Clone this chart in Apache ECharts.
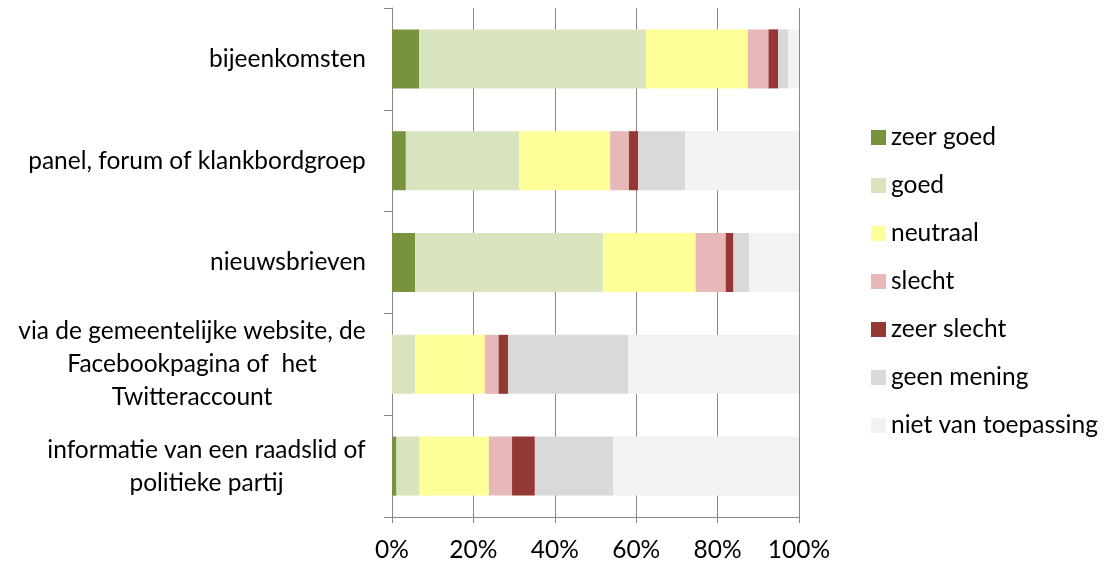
<!DOCTYPE html>
<html>
<head>
<meta charset="utf-8">
<script src="https://cdn.jsdelivr.net/npm/echarts@6/dist/echarts.min.js"></script>
<style>html,body{margin:0;padding:0;background:#fff;}#c{width:1107px;height:564px;}</style>
</head>
<body>
<div id="c"></div>
<script>
const categories = [
  "bijeenkomsten",
  "panel, forum of klankbordgroep",
  "nieuwsbrieven",
  "via de gemeentelijke website, de\nFacebookpagina of  het\nTwitteraccount",
  "informatie van een raadslid of\npolitieke partij"
];
const seriesNames = ["zeer goed","goed","neutraal","slecht","zeer slecht","geen mening","niet van toepassing"];
const zeerGoed   = [6.7, 3.4, 5.7, 0.0, 1.1];
const goed       = [55.7, 27.9, 46.2, 5.7, 5.7];
const neutraal   = [25.0, 22.3, 22.7, 17.1, 17.0];
const slecht     = [5.1, 4.6, 7.4, 3.4, 5.7];
const zeerSlecht = [2.4, 2.3, 1.9, 2.3, 5.6];
const geenMening = [2.5, 11.5, 3.8, 29.5, 19.3];
const nvt        = [2.6, 28.0, 12.3, 42.0, 45.6];
const xTicks = [0, 20, 40, 60, 80, 100];

const colors = ["#77933C","#D7E4BD","#FFFF99","#E6B9B8","#953735","#D9D9D9","#F2F2F2"];
const values = [zeerGoed, goed, neutraal, slecht, zeerSlecht, geenMening, nvt];
const FONT = "Lato";
const FS = 24.5;

// measure label lines to center multi-line labels within a right-aligned block
const cv = document.createElement("canvas").getContext("2d");
cv.font = FS + "px " + FONT;
const rich = {};
categories.forEach((c, i) => {
  const w = Math.max(...c.split("\n").map(l => cv.measureText(l).width));
  rich["c" + i] = {width: Math.ceil(w), align: "center", fontFamily: FONT, fontSize: FS, color: "#000", lineHeight: 33};
});

const chart = echarts.init(document.getElementById("c"), null, {renderer: "canvas"});
const gray = "#888888";
chart.setOption({
  animation: false,
  textStyle: {fontFamily: FONT},
  grid: {left: 392, right: 308, top: 8, bottom: 47, containLabel: false},
  legend: {
    orient: "vertical",
    left: 871,
    top: 125,
    padding: 0,
    itemWidth: 15,
    itemHeight: 15,
    itemGap: 23,
    icon: "rect",
    data: seriesNames,
    textStyle: {fontFamily: FONT, fontSize: FS, color: "#000", lineHeight: 24}
  },
  xAxis: {
    type: "value",
    min: xTicks[0],
    max: xTicks[xTicks.length - 1],
    interval: 20,
    axisLine: {show: true, lineStyle: {color: gray, width: 1}},
    axisTick: {show: true, length: 6, lineStyle: {color: gray}},
    splitLine: {show: true, lineStyle: {color: gray, width: 1}},
    axisLabel: {formatter: "{value}%", fontFamily: FONT, fontSize: FS, color: "#000", margin: 21}
  },
  yAxis: {
    type: "category",
    inverse: true,
    data: categories,
    axisLine: {show: true, lineStyle: {color: gray, width: 1}},
    axisTick: {show: true, length: 8, lineStyle: {color: gray}},
    axisLabel: {
      margin: 26,
      formatter: function (v) {
        const i = categories.indexOf(v);
        return v.split("\n").map(l => "{c" + i + "|" + l + "}").join("\n");
      },
      rich: rich
    }
  },
  series: seriesNames.map((n, k) => ({
    name: n,
    type: "bar",
    stack: "total",
    barWidth: "58%",
    itemStyle: {color: colors[k]},
    data: values[k]
  }))
});
</script>
</body>
</html>
